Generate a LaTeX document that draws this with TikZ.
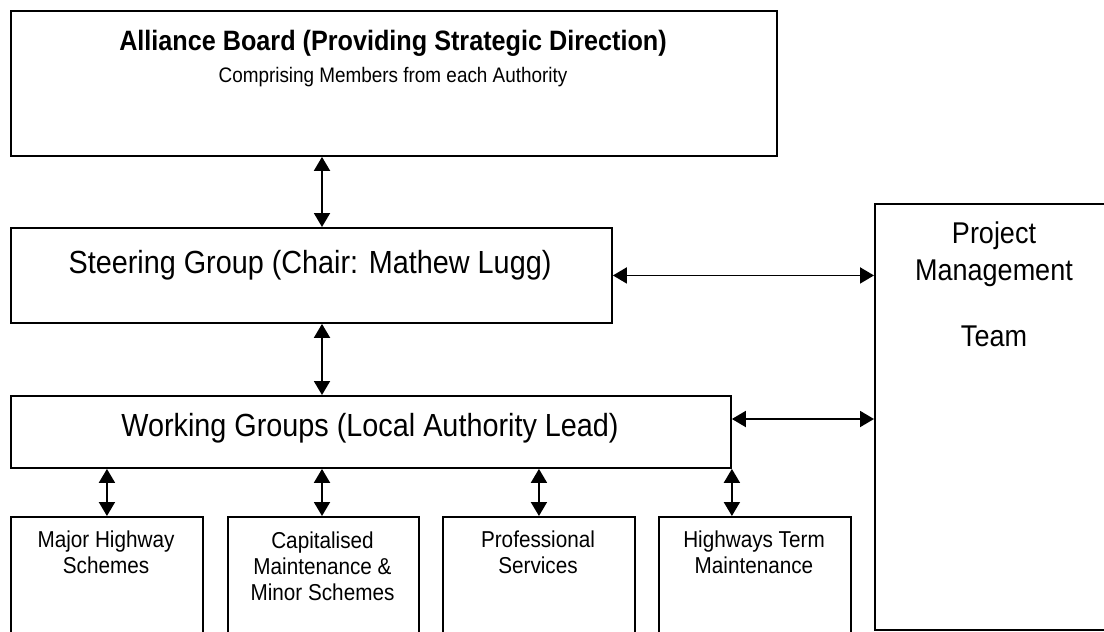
\documentclass[tikz,border=0pt]{standalone}
\usepackage{fontspec}
\setmainfont{Liberation Sans}[FakeStretch=0.9]
\usetikzlibrary{arrows.meta}
\begin{document}
\begin{tikzpicture}[x=1pt,y=-1pt,
  box/.style={draw, line width=1.9pt, inner sep=0pt, anchor=north west},
  txt/.style={inner sep=0pt, anchor=base, align=center},
  arr/.style={{Triangle[length=14pt,width=16pt]}-{Triangle[length=14pt,width=16pt]}, line width=1.9pt},
  bigfont/.style={font=\fontsize{32}{38}\selectfont},
  pmtfont/.style={font=\fontsize{30}{37}\selectfont},
  smallfont/.style={font=\fontsize{23}{26}\selectfont},
]
\useasboundingbox (0,0) rectangle (1104,632);
\clip (0,0) rectangle (1104,632);

% boxes
\node[box, minimum width=766pt, minimum height=145pt] (ab) at (10,10) {};
\node[box, minimum width=601pt, minimum height=95pt] (sg) at (10,227) {};
\node[box, minimum width=720pt, minimum height=72pt] (wg) at (10,395) {};
\node[box, minimum width=246pt, minimum height=426pt] (pmt) at (874,203) {};
\node[box, minimum width=192pt, minimum height=144pt] (b1) at (10,516) {};
\node[box, minimum width=191pt, minimum height=144pt] (b2) at (227,516) {};
\node[box, minimum width=192pt, minimum height=144pt] (b3) at (442,516) {};
\node[box, minimum width=192pt, minimum height=144pt] (b4) at (658,516) {};

% texts (base anchor = baseline of last line)
\node[txt, font=\fontsize{28}{34}\selectfont\bfseries] (abt) at (393,50) {Alliance Board (Providing Strategic Direction)};
\node[txt, font=\fontsize{21}{25}\selectfont] (abs) at (393,82) {Comprising Members from each Authority};
\node[txt, bigfont] (sgt) at (310,273) {Steering Group (Chair: Mathew Lugg)};
\node[txt, bigfont] (wgt) at (370,436) {Working Groups (Local Authority Lead)};
\node[txt, pmtfont] (pmtt) at (994,346) {Project\\Management\\[29pt]Team};
\node[txt, smallfont] (b1t) at (106,573) {Major Highway\\Schemes};
\node[txt, smallfont] (b2t) at (322.5,600) {Capitalised\\Maintenance \&\\Minor Schemes};
\node[txt, smallfont] (b3t) at (538,573) {Professional\\Services};
\node[txt, smallfont] (b4t) at (754,573) {Highways Term\\Maintenance};

% connectors
\coordinate (c1) at (322,0);
\coordinate (c2) at (0,419);
\draw[arr] (ab.south -| c1) -- (sg.north -| c1);
\draw[arr] (sg.south -| c1) -- (wg.north -| c1);
\draw[arr] (sg.east) -- (sg.east -| pmt.west);
\draw[arr] (wg.east |- c2) -- (pmt.west |- c2);
\draw[arr] (wg.south -| b1.north) -- (b1.north);
\draw[arr] (wg.south -| c1) -- (b2.north -| c1);
\draw[arr] (wg.south -| b3.north) -- (b3.north);
\draw[arr] (wg.south east) -- (b4.north -| wg.south east);
\end{tikzpicture}
\end{document}
